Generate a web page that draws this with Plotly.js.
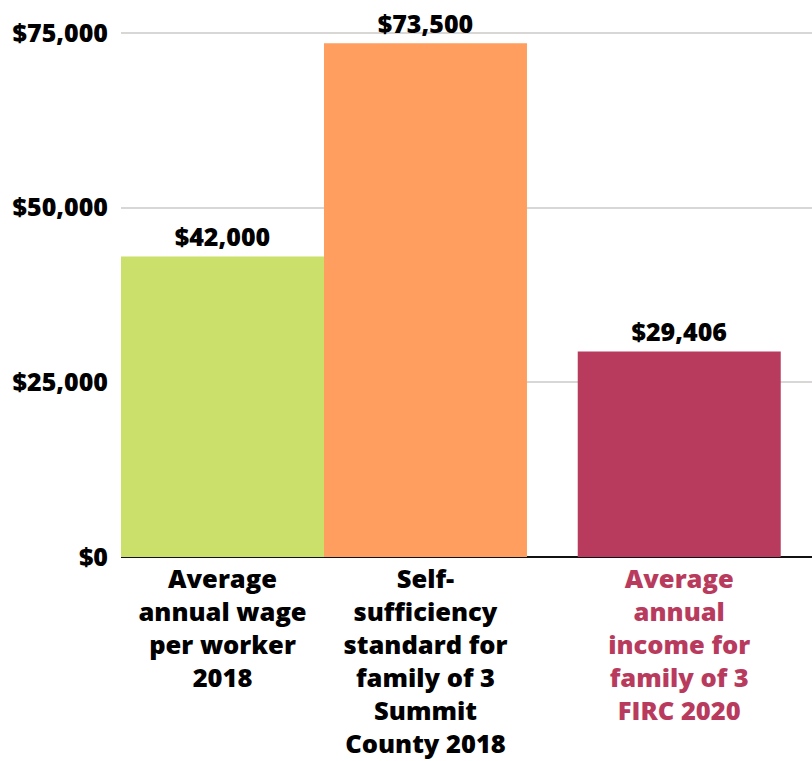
<!DOCTYPE html>
<html>
<head>
<meta charset="utf-8">
<script src="https://cdn.plot.ly/plotly-3.0.1.min.js"></script>
<style>
  html, body { margin: 0; padding: 0; background: #fff; }
  #chart { width: 812px; height: 761px; }
</style>
</head>
<body>
<div id="chart"></div>
<script>
'use strict';

// categories as they appear under the bars
var categories = [
  'Average<br>annual wage<br>per worker<br>2018',
  'Self-<br>sufficiency<br>standard for<br>family of 3<br>Summit<br>County 2018',
  'Average<br>annual<br>income for<br>family of 3<br>FIRC 2020'
];
// where each bar sits on the x axis (third bar is set apart)
var xPos = [0, 1, 2.25];
// bar heights as drawn
var values = [43000, 73500, 29406];
// labels printed above the bars
var valueLabels = ['$42,000', '$73,500', '$29,406'];
var barColors = ['#CBE06A', '#FF9E5F', '#B83B5E'];
var labelColors = ['#000000', '#000000', '#B83B5E'];

var yTicks = [0, 25000, 50000, 75000];
var yTickText = ['$0', '$25,000', '$50,000', '$75,000'];

// colour each category label through a span
var tickText = categories.map(function(c, i) {
  return '<span style="color:' + labelColors[i] + '">' + c + '</span>';
});

var trace = {
  type: 'bar',
  x: xPos,
  y: values,
  width: 1,
  marker: { color: barColors, line: { width: 0 } },
  text: valueLabels,
  textposition: 'outside',
  textfont: { family: 'Open Sans', size: 25, color: '#000', weight: 800 },
  cliponaxis: false,
  hoverinfo: 'none'
};

var layout = {
  width: 812,
  height: 761,
  margin: { l: 121, r: 0, t: 0, b: 204 },
  paper_bgcolor: '#fff',
  plot_bgcolor: '#fff',
  showlegend: false,
  font: { family: 'Open Sans', color: '#000' },
  xaxis: {
    range: [-0.5, 2.904],
    tickvals: xPos,
    ticktext: tickText,
    tickfont: { family: 'Open Sans', size: 25.5, weight: 800 },
    showgrid: false,
    zeroline: false,
    showline: false,
    ticks: '',
    ticklabelstandoff: 4,
    fixedrange: true
  },
  yaxis: {
    range: [0, 79700],
    tickvals: yTicks,
    ticktext: yTickText,
    tickfont: { family: 'Open Sans', size: 25, weight: 800 },
    showgrid: true,
    gridcolor: '#d9d6d6',
    gridwidth: 2,
    zeroline: true,
    zerolinecolor: '#111',
    zerolinewidth: 2,
    ticks: '',
    ticklabelstandoff: 12,
    fixedrange: true
  }
};

Plotly.newPlot('chart', [trace], layout, { displayModeBar: false, staticPlot: true });
</script>
</body>
</html>
